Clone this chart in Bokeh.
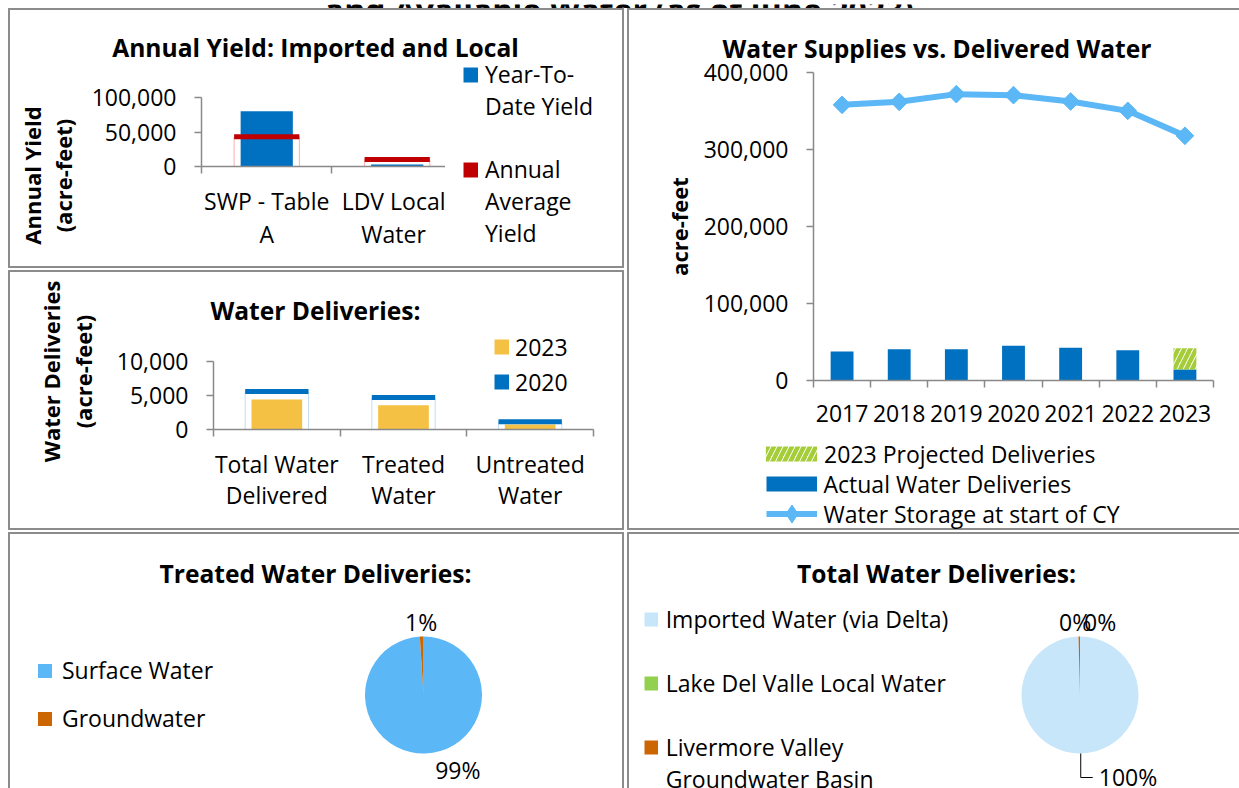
import math
import numpy as np
from bokeh.plotting import figure
from bokeh.models import (Range1d, FixedTicker, NumeralTickFormatter, Label, Legend,
                          LegendItem, ColumnDataSource, Spacer)
from bokeh.layouts import row, column
from bokeh.embed import file_html
from bokeh.resources import INLINE
from bokeh.core.properties import value

# ---------------- data ----------------
page_title = "and Available Water (as of June 2023)"

yield_cats = ["SWP - Table\nA", "LDV Local\nWater"]
yield_ytd = [80000, 3000]
yield_avg = [43000, 10200]

deliv_cats = ["Total Water\nDelivered", "Treated\nWater", "Untreated\nWater"]
deliv_2023 = [4400, 3550, 750]
deliv_2020 = [5600, 4700, 1150]

years = ["2017", "2018", "2019", "2020", "2021", "2022", "2023"]
actual_deliv = [37600, 40600, 40600, 45000, 42400, 39400, 14300]
projected_deliv = [0, 0, 0, 0, 0, 0, 27600]
storage = [358000, 361900, 371900, 370600, 362300, 350200, 317800]

treated_names = ["Surface Water", "Groundwater"]
treated_share = [99.0, 1.0]
total_names = ["Imported Water (via Delta)", "Lake Del Valle Local Water",
               "Livermore Valley\nGroundwater Basin"]
total_share = [99.6, 0.0, 0.4]

# ---------------- style ----------------
FONT = "Open Sans"
TITLE_SIZE = "24.6px"
GREY = "#898989"
BORDER = "#8c8c8c"
BLUE = "#0070C0"
RED = "#C00000"
PINK = "#F4B0B0"
GOLD = "#F4C145"
PALEBLUE = "#C5DDF1"
SKY = "#5BB7F5"
ICE = "#C7E6FA"
ORANGE = "#CC6600"
LGREEN = "#92D050"
HATCH = "#A5CD3A"
NAN = float("nan")
ALL = ["left", "right", "top", "bottom"]


def shadow_css(borders):
    sides = {"left": "inset 2px 0 0 0", "right": "inset -2px 0 0 0",
             "top": "inset 0 2px 0 0", "bottom": "inset 0 -2px 0 0"}
    return ", ".join(f"{sides[s]} {BORDER}" for s in borders) if borders else "none"


def chart_fig(w, h, xr, yr, left, right, top, bottom):
    p = figure(width=w, height=h, x_range=xr, y_range=yr, toolbar_location=None,
               output_backend="svg", min_border_left=left, min_border_right=right,
               min_border_top=top, min_border_bottom=bottom, title=None)
    p.border_fill_color = None
    p.background_fill_color = None
    p.outline_line_color = None
    p.xgrid.visible = False
    p.ygrid.visible = False
    return p


def blank_fig(w, h, borders=None):
    p = figure(width=w, height=h, x_range=Range1d(0, w), y_range=Range1d(0, h),
               toolbar_location=None, output_backend="svg", x_axis_type=None,
               y_axis_type=None, min_border=0, title=None,
               styles={"box-shadow": shadow_css(borders or [])})
    p.border_fill_color = None
    p.background_fill_color = None
    p.outline_line_color = None
    return p


def iso(*children, borders=None, direction="row"):
    kids = [row(c) if hasattr(c, "renderers") else c for c in children]
    styles = {"box-shadow": shadow_css(borders)} if borders else {}
    if direction == "row":
        return row(*kids, styles=styles)
    return column(*kids, styles=styles)


def style_axes(p, xticks, xminor, xlabels, yticks, ybounds, xstandoff, xlh):
    xa, ya = p.xaxis[0], p.yaxis[0]
    for ax in (xa, ya):
        ax.axis_line_color = GREY
        ax.axis_line_width = 1.5
        ax.major_tick_line_color = GREY
        ax.major_tick_line_width = 1.5
        ax.minor_tick_line_color = GREY
        ax.minor_tick_line_width = 1.5
        ax.major_tick_in = 0
        ax.minor_tick_in = 0
        ax.major_label_text_font = FONT
        ax.major_label_text_font_size = "23px"
        ax.major_label_text_color = "#000000"
    xa.ticker = FixedTicker(ticks=xticks, minor_ticks=xminor)
    xa.major_label_overrides = {t: l for t, l in zip(xticks, xlabels)}
    xa.major_tick_out = 0
    xa.major_tick_line_color = None
    xa.minor_tick_out = 7
    xa.major_label_standoff = xstandoff
    xa.major_label_text_line_height = xlh
    ya.ticker = FixedTicker(ticks=yticks, minor_ticks=[])
    ya.formatter = NumeralTickFormatter(format="0,0")
    ya.bounds = ybounds
    ya.major_tick_out = 7
    ya.minor_tick_out = 0
    ya.major_label_standoff = 18


def add_label(p, x, y, text, size, bold=False, angle=0.0, lh=1.2, align="center",
              baseline="middle"):
    p.add_layout(Label(x=x, y=y, text=text, angle=angle,
                       text_font=FONT, text_font_size=size,
                       text_font_style="bold" if bold else "normal",
                       text_align=align, text_baseline=baseline, text_line_height=lh,
                       text_color="#000000"))


ROW_H = 23 * 1.362  # height Bokeh measures for one 23px Open Sans legend label


def add_legend(p, entries, first_row_y, glyph_left, ref_left, ref_bottom,
               gw, gh, spacing, standoff):
    n = len(entries)
    item_h = max(gh, ROW_H)
    height = n * item_h + (n - 1) * spacing
    top = first_row_y - item_h / 2
    loc = (glyph_left - ref_left, ref_bottom - (top + height))
    items = [LegendItem(label=t, renderers=r if isinstance(r, list) else [r])
             for t, r in entries]
    lg = Legend(items=items, location=loc, orientation="vertical",
                glyph_width=gw, glyph_height=gh, label_height=gh, spacing=spacing,
                padding=0, margin=0, label_standoff=standoff,
                border_line_color=None, background_fill_alpha=0,
                label_text_font=FONT, label_text_font_size="23px",
                label_text_color="#000000")
    p.add_layout(lg)


def bar_proxy(p, color, width):
    return p.line(x=[NAN], y=[NAN], line_width=width, line_color=color, line_cap="butt")


def square_proxy(p, color):
    return p.scatter(x=[NAN], y=[NAN], marker="square", fill_color=color, line_color=None)


def blank_proxy(p):
    return p.scatter(x=[NAN], y=[NAN], marker="square", fill_alpha=0, line_alpha=0)


# ---------------- top strip (cropped page title) ----------------
strip = blank_fig(1239, 8)
strip.text(x=[619], y=[3.5], text=[page_title], text_font=value(FONT),
           text_font_size="32px", text_font_style="bold", text_align="center",
           text_baseline="alphabetic", text_color="#000000")

# ---------------- Panel 1: Annual Yield (x 8..624, y 8..268) ----------------
t1 = blank_fig(616, 56)
add_label(t1, 307, 17, "Annual Yield: Imported and Local", TITLE_SIZE, bold=True)
lab1 = blank_fig(80, 204)
add_label(lab1, 39, 93, "Annual Yield\n(acre-feet)", "22px", bold=True,
          angle=math.pi / 2, lh=1.035)
x1 = [i + 0.5 for i in range(len(yield_cats))]
p1 = chart_fig(357, 204, Range1d(0, 1.87), Range1d(0, 100000), 112, 0, 33, 102)
s1 = ColumnDataSource(dict(x=x1, ytd=yield_ytd, avg=yield_avg,
                           x0=[c - 0.25 for c in x1], x1=[c + 0.25 for c in x1]))
p1.vbar(x="x", width=0.5, top="avg", bottom=0, fill_color=None, line_color=PINK,
        line_width=1, source=s1)
p1.vbar(x="x", width=0.4, top="ytd", bottom=0, fill_color=BLUE, line_color=None, source=s1)
p1.segment(x0="x0", x1="x1", y0="avg", y1="avg", line_width=5, line_color=RED, source=s1)
style_axes(p1, x1, list(range(len(yield_cats) + 1)), yield_cats, [0, 50000, 100000],
           (0, 100000), 11, 1.06)
leg1 = blank_fig(179, 204)
b1 = blank_proxy(leg1)
add_legend(leg1, [("Year-To-", bar_proxy(leg1, BLUE, 15)), ("Date Yield", b1), (" ", b1),
                  ("Annual", bar_proxy(leg1, RED, 15)), ("Average", b1), ("Yield", b1)],
           77, 463, 445, 268, 15, 31, 0, 7)
panel1 = iso(t1, iso(lab1, p1, leg1), borders=ALL, direction="column")

# ---------------- Panel 2: Water Deliveries (x 8..624, y 270..530) ----------------
lab2 = blank_fig(102, 260)
add_label(lab2, 58.5, 159, "Water Deliveries\n(acre-feet)", "22px", bold=True,
          angle=math.pi / 2, lh=1.07)
t2 = blank_fig(514, 55)
add_label(t2, 205, 15, "Water Deliveries:", TITLE_SIZE, bold=True)
x2 = [i + 0.5 for i in range(len(deliv_cats))]
p2 = chart_fig(514, 205, Range1d(0, 3), Range1d(0, 15294), 103, 31, 0, 101)
s2 = ColumnDataSource(dict(x=x2, y23=deliv_2023, y20=deliv_2020,
                           x0=[c - 0.25 for c in x2], x1=[c + 0.25 for c in x2]))
p2.vbar(x="x", width=0.5, top="y20", bottom=0, fill_color=None, line_color=PALEBLUE,
        line_width=1, source=s2)
p2.vbar(x="x", width=0.4, top="y23", bottom=0, fill_color=GOLD, line_color=None, source=s2)
p2.segment(x0="x0", x1="x1", y0="y20", y1="y20", line_width=5, line_color=BLUE, source=s2)
style_axes(p2, x2, list(range(len(deliv_cats) + 1)), deliv_cats, [0, 5000, 10000],
           (0, 10000), 11, 0.97)
add_legend(p2, [("2023", bar_proxy(p2, GOLD, 15)), ("2020", bar_proxy(p2, BLUE, 15))],
           346.7, 494, 213, 429, 15, 35, 0, 6)
panel2 = iso(lab2, iso(t2, p2, direction="column"), borders=ALL)

# ---------------- Panel 3: Water Supplies vs Delivered (x 627..1239, y 8..530) ----------
t3 = blank_fig(612, 55)
add_label(t3, 309.5, 15.2, "Water Supplies vs. Delivered Water", TITLE_SIZE, bold=True)
x3 = [i + 0.5 for i in range(len(years))]
p3 = chart_fig(612, 377, Range1d(0, 7), Range1d(0, 400000), 186, 26, 9, 60)
s3 = ColumnDataSource(dict(x=x3, act=actual_deliv,
                           tot=[a + b for a, b in zip(actual_deliv, projected_deliv)],
                           sto=storage))
p3.vbar(x="x", width=0.4, top="act", bottom=0, fill_color=BLUE, line_color=None, source=s3)
p3.vbar(x="x", width=0.4, top="tot", bottom="act", fill_color=None, line_color=None,
        hatch_pattern="/", hatch_color=HATCH, hatch_weight=4.5, hatch_scale=12, source=s3)
p3.line(x="x", y="sto", line_width=6, line_color=SKY, source=s3)
p3.scatter(x="x", y="sto", marker="square", angle=math.pi / 4, size=12.5,
           fill_color=SKY, line_color=SKY, source=s3)
style_axes(p3, x3, list(range(len(years) + 1)), years,
           [0, 100000, 200000, 300000, 400000], (0, 400000), 17, 1.2)
p3.yaxis[0].axis_label = "acre-feet"
p3.yaxis[0].axis_label_standoff = 7
p3.yaxis[0].axis_label_text_font = FONT
p3.yaxis[0].axis_label_text_font_size = "22px"
p3.yaxis[0].axis_label_text_font_style = "bold"
p3.yaxis[0].axis_label_text_color = "#000000"

leg3 = blank_fig(612, 90)
proj_proxy = leg3.vbar(x=[NAN], top=[NAN], width=1, fill_color=None, line_color=None,
                       hatch_pattern="/", hatch_color=HATCH, hatch_weight=4.5,
                       hatch_scale=12)
add_legend(leg3, [("2023 Projected Deliveries", proj_proxy)],
           454, 759.1, 627, 530, 64, 19, 0, 1)
add_legend(leg3, [("Actual Water Deliveries", bar_proxy(leg3, BLUE, 15))],
           484, 765.5, 627, 530, 51, 31, 0, 7)
sto_line = leg3.line(x=[NAN], y=[NAN], line_width=6, line_color=SKY)
sto_mark = leg3.scatter(x=[NAN], y=[NAN], marker="diamond", fill_color=SKY, line_color=SKY)
add_legend(leg3, [("Water Storage at start of CY", [sto_line, sto_mark])],
           513.6, 765.5, 627, 530, 51, 45, 0, 7)
panel3 = iso(t3, p3, leg3, borders=["left", "top", "bottom"], direction="column")


# ---------------- Pies ----------------
def draw_pie(p, shares, colors, cx, cy, r):
    tot = float(sum(shares))
    fr = [s / tot for s in shares]
    cum = np.concatenate([[0.0], np.cumsum(fr)])
    keep = [i for i, f in enumerate(fr) if f > 0]
    src = ColumnDataSource(dict(
        start=[math.pi / 2 - 2 * math.pi * cum[i] for i in keep],
        end=[math.pi / 2 - 2 * math.pi * cum[i + 1] for i in keep],
        color=[colors[i] for i in keep]))
    p.wedge(x=cx, y=cy, radius=r, start_angle="start", end_angle="end",
            direction="clock", fill_color="color", line_color=None, source=src)
    mids = [2 * math.pi * (cum[i] + fr[i] / 2) for i in range(len(fr))]
    return [f * 100 for f in fr], mids


R = 58.5
# Panel 4: Treated water (x 8..624, y 532..788)
p4 = blank_fig(616, 256, ["left", "top", "right"])
cx4, cy4 = 415, 93.5
pct4, mid4 = draw_pie(p4, treated_share, [SKY, ORANGE], cx4, cy4, R)
nudge4 = [(32, -2), (0, 0)]
p4.text(x=[cx4 + (R + 15) * math.sin(m) + d[0] for m, d in zip(mid4, nudge4)],
        y=[cy4 + (R + 15) * math.cos(m) + d[1] for m, d in zip(mid4, nudge4)],
        text=[f"{round(v)}%" for v in pct4], text_font=value(FONT), text_font_size="23px",
        text_align="center", text_baseline="middle", text_color="#000000")
add_label(p4, 307, 214.7, "Treated Water Deliveries:", TITLE_SIZE, bold=True)
add_legend(p4, [(treated_names[0], square_proxy(p4, SKY)),
                (treated_names[1], square_proxy(p4, ORANGE))],
           670, 27, 8, 788, 35, 35, 13, -3)

# Panel 5: Total water (x 627..1239, y 532..788)
p5 = blank_fig(612, 256, ["left", "top"])
cx5, cy5 = 452.5, 93.5
pct5, mid5 = draw_pie(p5, total_share, [ICE, LGREEN, ORANGE], cx5, cy5, R)
leader5 = [True, False, False]
nudge5 = [(0, 0), (-3, 0), (21, 0)]
lx, ly, lt = [], [], []
for v, m, lead, d in zip(pct5, mid5, leader5, nudge5):
    if lead:
        px0 = cx5 + R * math.sin(m)
        py0 = cy5 + R * math.cos(m)
        py1 = cy5 - (R + 24)
        p5.line(x=[px0, px0, px0 + 12], y=[py0, py1, py1], line_color="#000000", line_width=1)
        p5.text(x=[px0 + 18], y=[py1 + 1], text=[f"{round(v)}%"], text_font=value(FONT),
                text_font_size="23px", text_align="left", text_baseline="alphabetic",
                text_color="#000000")
    else:
        lx.append(cx5 + (R + 15) * math.sin(m) + d[0])
        ly.append(cy5 + (R + 15) * math.cos(m) + d[1])
        lt.append(f"{round(v)}%")
p5.text(x=lx, y=ly, text=lt, text_font=value(FONT), text_font_size="23px",
        text_align="center", text_baseline="middle", text_color="#000000")
add_label(p5, 309, 215, "Total Water Deliveries:", TITLE_SIZE, bold=True)
b5 = blank_proxy(p5)
sq5 = [bar_proxy(p5, c, 14) for c in (ICE, LGREEN, ORANGE)]
entries5 = []
for name, sq in zip(total_names, sq5):
    lines = name.split("\n")
    if entries5:
        entries5.append((" ", b5))
    entries5.append((lines[0], sq))
    for extra in lines[1:]:
        entries5.append((extra, b5))
add_legend(p5, entries5, 619.0, 643.7, 627, 788, 14, 32, 0, 8)

left_col = column(panel1, Spacer(width=616, height=2), panel2)
top_row = row(Spacer(width=8, height=522), left_col, Spacer(width=3, height=522), panel3)
bottom_row = row(Spacer(width=8, height=256), row(p4), Spacer(width=3, height=256), row(p5))
layout = column(row(strip), top_row, Spacer(width=1239, height=2), bottom_row)

open("out.html", "w").write(file_html(layout, INLINE))
